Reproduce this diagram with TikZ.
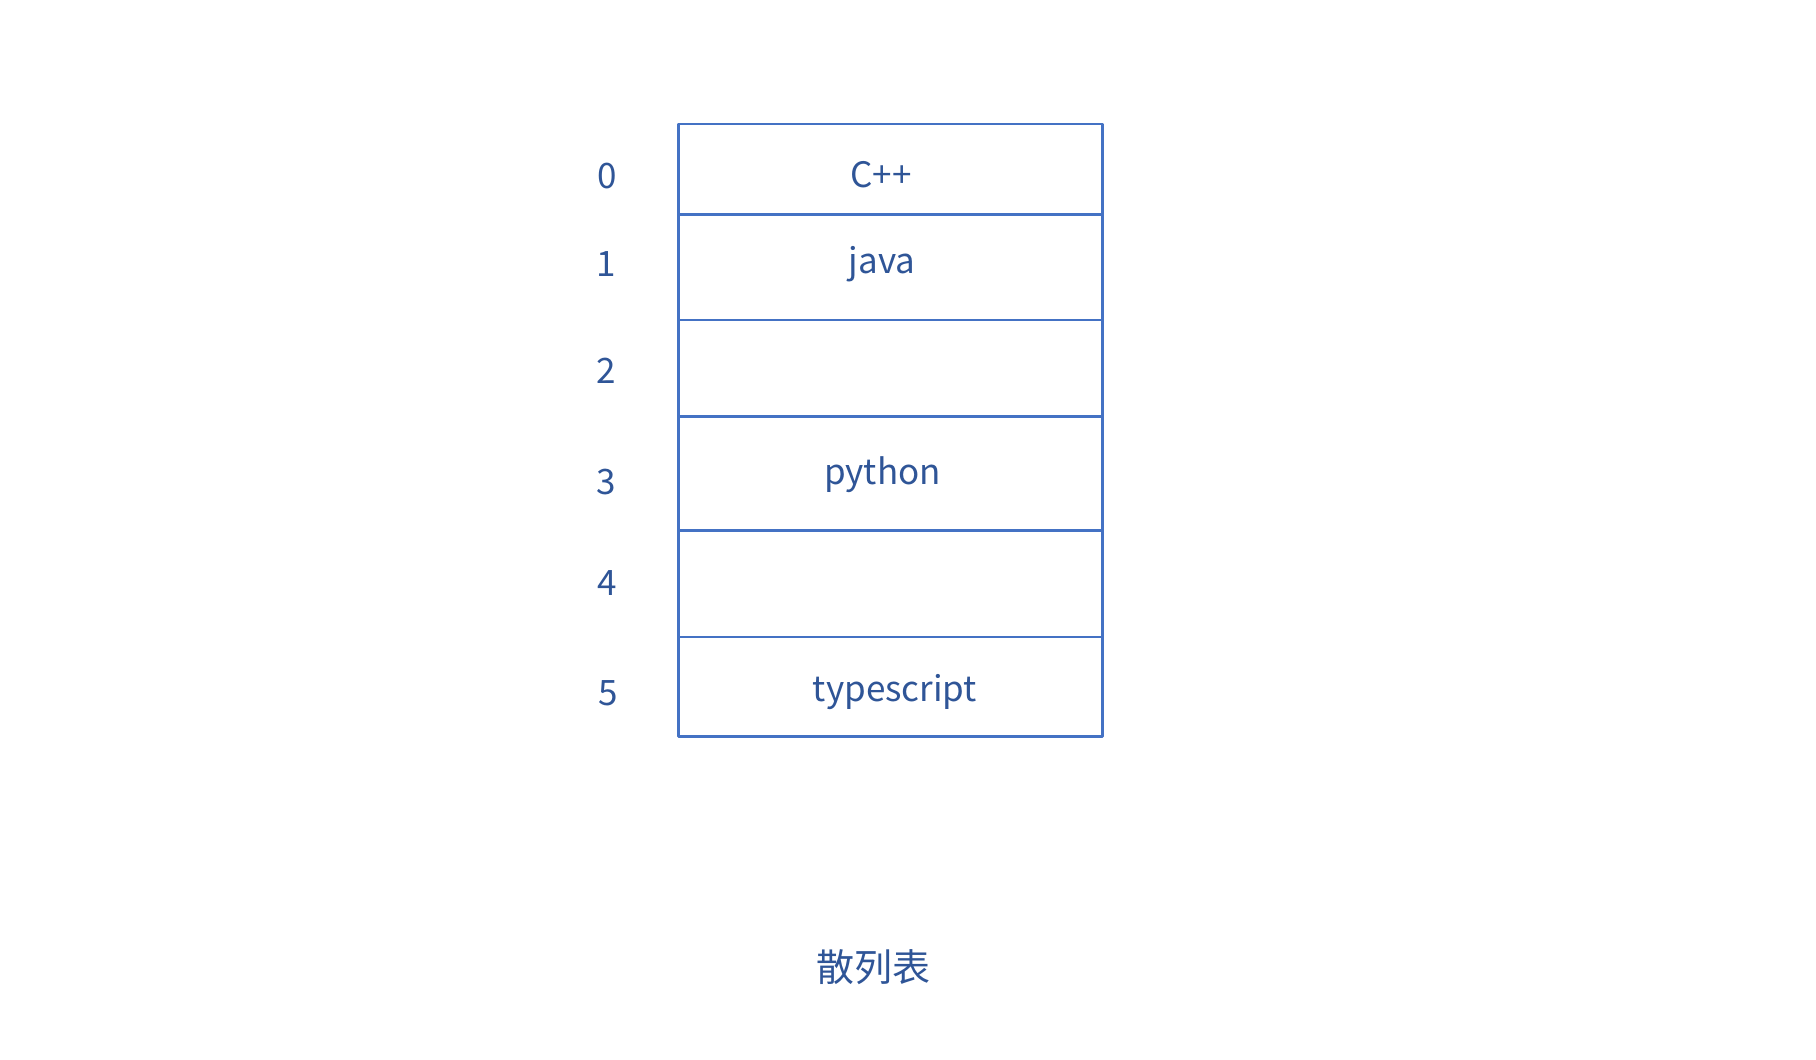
\documentclass[tikz,border=0pt]{standalone}
\usepackage{fontspec}
\setmainfont{Noto Sans CJK SC}
\definecolor{linec}{RGB}{68,114,196}
\definecolor{textc}{RGB}{47,85,151}
\begin{document}
\begin{tikzpicture}[x=1pt,y=-1pt,
  cell/.style={draw=linec, line width=2.8pt, line join=round, rectangle, inner sep=0pt, minimum width=424.4pt},
  txt/.style={text=textc, font=\fontsize{35}{40}\selectfont, anchor=base, inner sep=0pt},
  captext/.style={text=textc, font=\fontsize{38}{44}\selectfont, inner sep=0pt}]
\useasboundingbox (0,0) rectangle (1816,1060);
% cells
\node[cell, minimum height=90.3pt]  (c0) at (890.5,169.15) {};
\node[cell, minimum height=105.7pt] (c1) at (890.5,267.15) {};
\node[cell, minimum height=96.7pt]  (c2) at (890.5,368.35) {};
\node[cell, minimum height=114pt]   (c3) at (890.5,473.7) {};
\node[cell, minimum height=106.3pt] (c4) at (890.5,583.85) {};
\node[cell, minimum height=99.3pt]  (c5) at (890.5,686.65) {};
% indices
\node[txt] (i0) at (607,188.3) {0};
\node[txt] (i1) at (606,276.7) {1};
\node[txt] (i2) at (606,383.3) {2};
\node[txt] (i3) at (606,494) {3};
\node[txt] (i4) at (607,595) {4};
\node[txt] (i5) at (608,705) {5};
% contents
\node[txt] (t0) at (881,187.5) {C++};
\node[txt] (t1) at (882,273.3) {java};
\node[txt] (t3) at (882.5,484.3) {python};
\node[txt] (t5) at (895,701.7) {typescript};
% caption
\node[captext] (title) at (873.5,966.7) {散列表};
\end{tikzpicture}
\end{document}
